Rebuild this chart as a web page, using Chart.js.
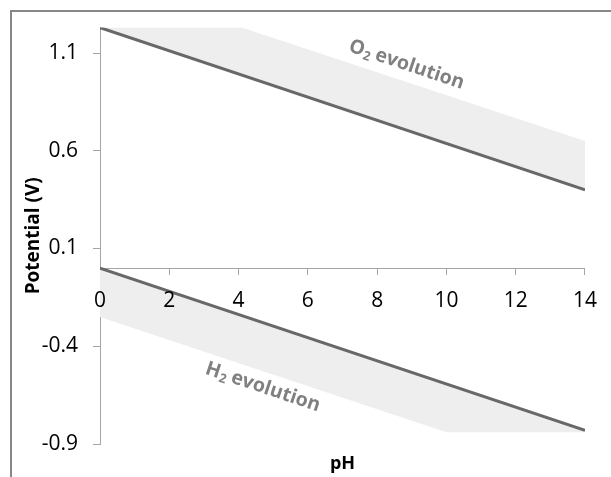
<!DOCTYPE html>
<html>
<head>
<meta charset="utf-8">
<script src="https://cdn.jsdelivr.net/npm/chart.js@4/dist/chart.umd.min.js"></script>
<style>
  html, body { margin: 0; padding: 0; background: #fff; overflow: hidden; }
  #frame { position: absolute; left: 10px; top: 10px; width: 700px; height: 600px;
           border: 2px solid #878787; box-sizing: border-box; }
  #wrap { position: absolute; left: 0; top: 0; width: 611px; height: 477px; }
</style>
</head>
<body>
<div id="frame"></div>
<div id="wrap"><canvas id="chart" width="611" height="477"></canvas></div>
<script>
// pH end points of the equilibrium lines
const PH_ENDS = [0, 14];
const O2_LINE = [1.23, 0.40];
const H2_LINE = [0.00, -0.83];
// shaded overpotential bands
const O2_BAND_TOP = [1.47, 0.65];
const PH_H2_BAND = [0, 10, 14];
const H2_BAND_BOTTOM = [-0.25, -0.84, -0.84];

const Y_TICKS = [-0.9, -0.4, 0.1, 0.6, 1.1];
const X_TICKS = [0, 2, 4, 6, 8, 10, 12, 14];

// label anchors (pH, V)
const O2_LABEL = { x: 8.85, y: 1.04 };
const H2_LABEL = { x: 4.7, y: -0.61 };

const LINE_COLOR = '#686868';
const BAND_COLOR = '#eeeeee';
const AXIS_COLOR = '#a5a5a5';
const FONT = '"Open Sans"';

const pts = (xs, ys) => xs.map((x, i) => ({ x: x, y: ys[i] }));

// draws "X2 evolution" with subscript, rotated along the lines
const labelPlugin = {
  id: 'evolutionLabels',
  afterDatasetsDraw(chart) {
    const { ctx, scales: { x, y } } = chart;
    const dx = x.getPixelForValue(PH_ENDS[1]) - x.getPixelForValue(PH_ENDS[0]);
    const dy = y.getPixelForValue(O2_LINE[1]) - y.getPixelForValue(O2_LINE[0]);
    const angle = Math.atan2(dy, dx);

    function drawLabel(pos, letter) {
      const big = 'bold 19.5px ' + FONT;
      const small = 'bold 12.5px ' + FONT;
      ctx.save();
      ctx.translate(x.getPixelForValue(pos.x), y.getPixelForValue(pos.y));
      ctx.rotate(angle);
      ctx.fillStyle = '#808080';
      ctx.textBaseline = 'middle';
      ctx.textAlign = 'left';
      ctx.font = big;
      const w1 = ctx.measureText(letter).width;
      const w3 = ctx.measureText(' evolution').width;
      ctx.font = small;
      const w2 = ctx.measureText('2').width;
      let cx = -(w1 + w2 + w3) / 2;
      ctx.font = big;
      ctx.fillText(letter, cx, 0);
      cx += w1;
      ctx.font = small;
      ctx.fillText('2', cx + 0.5, 5);
      cx += w2;
      ctx.font = big;
      ctx.fillText(' evolution', cx, 0);
      ctx.restore();
    }
    drawLabel(O2_LABEL, 'O');
    drawLabel(H2_LABEL, 'H');
  }
};

new Chart(document.getElementById('chart'), {
  type: 'line',
  data: {
    datasets: [
      { data: pts(PH_ENDS, O2_LINE), borderColor: LINE_COLOR, borderWidth: 3, pointRadius: 0, fill: false, order: 1 },
      { data: pts(PH_ENDS, O2_BAND_TOP), borderWidth: 0, borderColor: 'rgba(0,0,0,0)', pointRadius: 0,
        fill: '-1', backgroundColor: BAND_COLOR, order: 2 },
      { data: pts(PH_ENDS, H2_LINE), borderColor: LINE_COLOR, borderWidth: 3, pointRadius: 0, fill: false, order: 1 },
      { data: pts(PH_H2_BAND, H2_BAND_BOTTOM), borderWidth: 0, borderColor: 'rgba(0,0,0,0)', pointRadius: 0,
        fill: '-1', backgroundColor: BAND_COLOR, order: 2 }
    ]
  },
  options: {
    responsive: false,
    animation: false,
    layout: { padding: { top: 27, right: 23, bottom: 0, left: 0 } },
    plugins: { legend: { display: false }, tooltip: { enabled: false } },
    scales: {
      x: {
        type: 'linear',
        position: { y: 0 },
        min: 0, max: 14,
        afterBuildTicks: s => { s.ticks = X_TICKS.map(v => ({ value: v })); },
        border: { color: AXIS_COLOR, width: 1 },
        grid: { drawOnChartArea: false, drawTicks: true, tickLength: 6, color: AXIS_COLOR },
        ticks: { z: 1, color: '#000', padding: 14, maxRotation: 0, font: { family: FONT, size: 21 } }
      },
      xTitle: {
        type: 'linear',
        axis: 'x',
        position: 'bottom',
        min: 0, max: 14,
        afterFit: s => { s.height = 33; },
        border: { display: false },
        grid: { display: false },
        ticks: { display: false },
        title: { display: true, text: 'pH', color: '#000', padding: { top: 0, bottom: 2 },
                 font: { family: FONT, size: 18, weight: 'bold' } }
      },
      y: {
        type: 'linear',
        position: 'left',
        min: -0.9, max: 1.23,
        afterBuildTicks: s => { s.ticks = Y_TICKS.map(v => ({ value: v })); },
        afterFit: s => { s.width = 100; },
        border: { color: AXIS_COLOR, width: 1 },
        grid: { drawOnChartArea: false, drawTicks: true, tickLength: 7, color: AXIS_COLOR },
        ticks: { color: '#000', padding: 15, font: { family: FONT, size: 21 },
                 callback: v => String(v) },
        title: { display: true, text: 'Potential (V)', color: '#000', padding: { top: 22, bottom: 0 },
                 font: { family: FONT, size: 19, weight: 'bold' } }
      }
    }
  },
  plugins: [labelPlugin]
});
</script>
</body>
</html>
